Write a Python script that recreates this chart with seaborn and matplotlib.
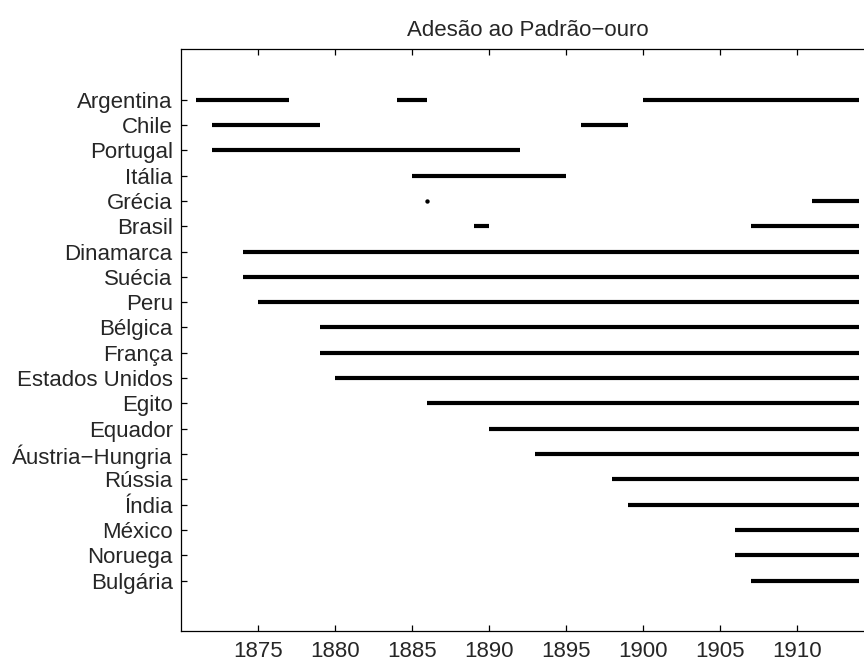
import matplotlib
matplotlib.use("Agg")
import matplotlib.pyplot as plt
import seaborn as sns
import pandas as pd

# ---- data ----
countries = ["Argentina", "Chile", "Portugal", "Itália", "Grécia", "Brasil",
             "Dinamarca", "Suécia", "Peru", "Bélgica", "França", "Estados Unidos",
             "Egito", "Equador", "Áustria\u2212Hungria", "Rússia", "Índia",
             "México", "Noruega", "Bulgária"]

seg_country = ["Argentina", "Argentina", "Argentina",
               "Chile", "Chile",
               "Portugal", "Itália",
               "Grécia", "Grécia",
               "Brasil", "Brasil",
               "Dinamarca", "Suécia", "Peru", "Bélgica", "França", "Estados Unidos",
               "Egito", "Equador", "Áustria\u2212Hungria", "Rússia", "Índia",
               "México", "Noruega", "Bulgária"]
seg_start = [1871, 1884, 1900,
             1872, 1896,
             1872, 1885,
             1886, 1911,
             1889, 1907,
             1874, 1874, 1875, 1879, 1879, 1880,
             1886, 1890, 1893, 1898, 1899,
             1906, 1906, 1907]
seg_end = [1877, 1886, 1914,
           1879, 1899,
           1892, 1895,
           1886, 1914,
           1890, 1914,
           1914, 1914, 1914, 1914, 1914, 1914,
           1914, 1914, 1914, 1914, 1914,
           1914, 1914, 1914]

x_ticks = [1875, 1880, 1885, 1890, 1895, 1900, 1905, 1910]
title = "Adesão ao Padrão\u2212ouro"

# ---- build tables ----
pos = {c: i for i, c in enumerate(countries)}
rows, pts = [], []
for k, (c, s, e) in enumerate(zip(seg_country, seg_start, seg_end)):
    if s == e:
        pts.append({"year": s, "pos": pos[c]})
    else:
        rows.append({"year": s, "pos": pos[c], "seg": k})
        rows.append({"year": e, "pos": pos[c], "seg": k})
df = pd.DataFrame(rows)
dfp = pd.DataFrame(pts)

sns.set_style("white")
plt.rcParams["font.family"] = ["Liberation Sans", "DejaVu Sans"]

fig = plt.figure(figsize=(8.64, 6.62), dpi=100)
ax = fig.add_axes([181 / 864, 1 - 631.3 / 662, 693 / 864, (631.3 - 49) / 662])

sns.lineplot(data=df, x="year", y="pos", units="seg", estimator=None,
             color="black", linewidth=3, solid_capstyle="butt", sort=False, ax=ax)
sns.scatterplot(data=dfp, x="year", y="pos", color="black", s=10,
                edgecolor="black", linewidth=0, ax=ax)

ax.set_xlim(1870, 1915)
ax.set_ylim(21, -2)
ax.set_xticks(x_ticks)
ax.set_xticklabels([str(t) for t in x_ticks], fontsize=16)
ax.set_yticks(range(len(countries)))
ax.set_yticklabels(countries, fontsize=16)
ax.set_xlabel("")
ax.set_ylabel("")
ax.set_title(title, fontsize=16, pad=9)

for side in ["left", "top", "bottom"]:
    ax.spines[side].set_visible(True)
    ax.spines[side].set_color("black")
    ax.spines[side].set_linewidth(0.9)
ax.spines["right"].set_visible(False)

ax.tick_params(axis="both", direction="in", length=4.5, width=0.9, color="black")
ax.tick_params(axis="x", top=True, bottom=True, labeltop=False, pad=7)
ax.tick_params(axis="y", left=True, right=False, pad=6)

fig.savefig("out.png", dpi=100)
